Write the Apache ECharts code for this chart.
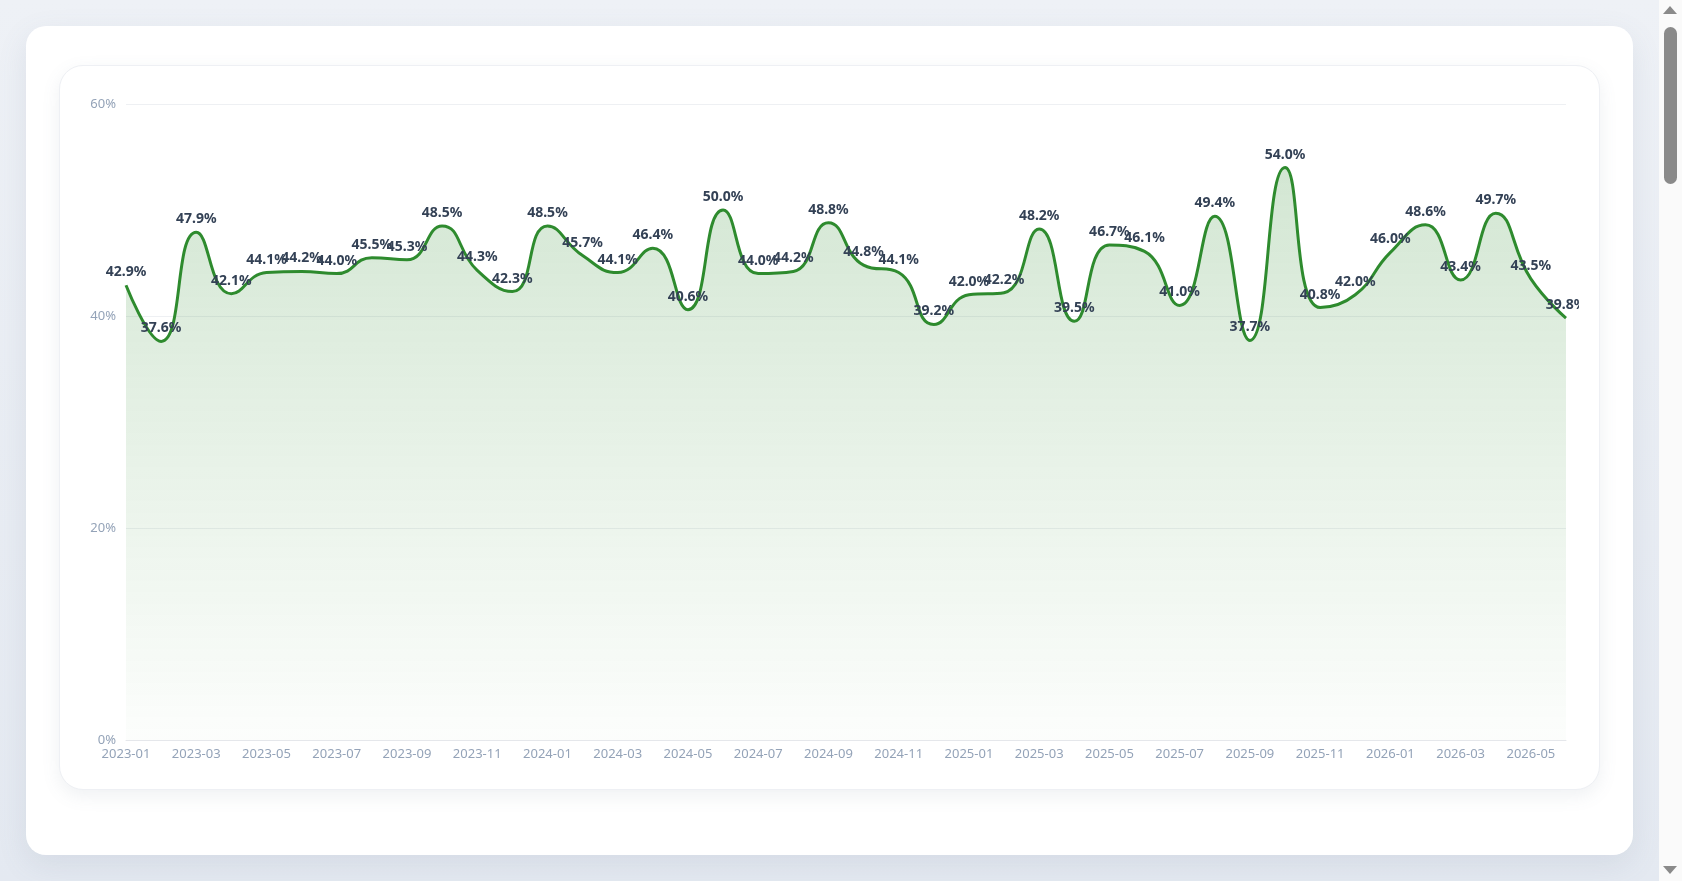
<!DOCTYPE html>
<html lang="en">

<head>
    <meta charset="UTF-8" />
    <meta name="viewport" content="width=device-width, initial-scale=1.0" />
    <title>Monthly Rate</title>
    <script src="https://cdn.jsdelivr.net/npm/echarts@6/dist/echarts.min.js"></script>
    <style>
        * {
            margin: 0;
            box-sizing: border-box;
        }

        body {
            background: linear-gradient(180deg, #eef1f6 0%, #e4e9f1 100%);
            font-family: "Noto Sans", sans-serif;
            height: 881px;
            overflow: hidden;
        }

        .outer {
            position: absolute;
            left: 26px;
            top: 26px;
            width: 1607px;
            height: 829px;
            background: #ffffff;
            border-radius: 20px;
            box-shadow: 0 10px 30px rgba(100, 116, 139, 0.12);
        }

        .inner {
            position: absolute;
            left: 33px;
            top: 39px;
            width: 1541px;
            height: 725px;
            padding: 20px;
            background: #ffffff;
            border: 1px solid #eef0f4;
            border-radius: 24px;
            box-shadow: 0 6px 18px rgba(100, 116, 139, 0.10);
        }

        #chart {
            width: 100%;
            height: 100%;
        }

        /* page scrollbar as it shows in the screenshot */
        .scrollbar {
            position: fixed;
            top: 0;
            right: 0;
            width: 23px;
            height: 881px;
            background: #fafafa;
        }

        .scrollbar .thumb {
            position: absolute;
            left: 5px;
            top: 27px;
            width: 13px;
            height: 157px;
            border-radius: 7px;
            background: #8a8a8a;
        }

        .scrollbar .up,
        .scrollbar .down {
            position: absolute;
            left: 4px;
            width: 0;
            height: 0;
            border-left: 7px solid transparent;
            border-right: 7px solid transparent;
        }

        .scrollbar .up {
            top: 6px;
            border-bottom: 8px solid #8a8a8a;
        }

        .scrollbar .down {
            top: 866px;
            border-top: 8px solid #8a8a8a;
        }
    </style>
</head>

<body>
    <div class="outer">
        <div class="inner">
            <div id="chart"></div>
        </div>
    </div>
    <div class="scrollbar">
        <div class="up"></div>
        <div class="thumb"></div>
        <div class="down"></div>
    </div>
    <script>
        const months = [
            "2023-01", "2023-02", "2023-03", "2023-04", "2023-05", "2023-06",
            "2023-07", "2023-08", "2023-09", "2023-10", "2023-11", "2023-12",
            "2024-01", "2024-02", "2024-03", "2024-04", "2024-05", "2024-06",
            "2024-07", "2024-08", "2024-09", "2024-10", "2024-11", "2024-12",
            "2025-01", "2025-02", "2025-03", "2025-04", "2025-05", "2025-06",
            "2025-07", "2025-08", "2025-09", "2025-10", "2025-11", "2025-12",
            "2026-01", "2026-02", "2026-03", "2026-04", "2026-05", "2026-06"
        ];

        const rates = [
            42.9, 37.6, 47.9, 42.1, 44.1, 44.2, 44.0, 45.5, 45.3, 48.5, 44.3, 42.3,
            48.5, 45.7, 44.1, 46.4, 40.6, 50.0, 44.0, 44.2, 48.8, 44.8, 44.1, 39.2,
            42.0, 42.2, 48.2, 39.5, 46.7, 46.1, 41.0, 49.4, 37.7, 54.0, 40.8, 42.0,
            46.0, 48.6, 43.4, 49.7, 43.5, 39.8
        ];

        const yTicks = [0, 20, 40, 60];

        const chart = echarts.init(document.getElementById("chart"));

        chart.setOption({
            animation: false,
            grid: { left: 46, right: 13, top: 18, bottom: 29 },
            xAxis: {
                type: "category",
                data: months,
                boundaryGap: false,
                axisLine: { lineStyle: { color: "#e5e7eb" } },
                axisTick: { show: false },
                axisLabel: {
                    color: "#94a3b8",
                    fontSize: 13,
                    fontFamily: "Noto Sans",
                    interval: 1,
                    margin: 8
                }
            },
            yAxis: {
                type: "value",
                min: yTicks[0],
                max: yTicks[yTicks.length - 1],
                interval: 20,
                axisLine: { show: false },
                axisTick: { show: false },
                axisLabel: {
                    color: "#94a3b8",
                    fontSize: 13,
                    fontFamily: "Noto Sans",
                    formatter: "{value}%",
                    margin: 10
                },
                splitLine: { lineStyle: { color: "#eef0f3" } }
            },
            series: [
                {
                    type: "line",
                    data: rates,
                    smooth: true,
                    showSymbol: true,
                    symbol: "circle",
                    symbolSize: 0,
                    lineStyle: { color: "#2e8b2e", width: 3 },
                    itemStyle: { color: "#2e8b2e" },
                    label: {
                        show: true,
                        position: "top",
                        distance: 6,
                        color: "#334155",
                        fontSize: 14,
                        fontWeight: "bold",
                        fontFamily: "Noto Sans",
                        formatter: (p) => p.value.toFixed(1) + "%"
                    },
                    areaStyle: {
                        color: new echarts.graphic.LinearGradient(0, 0, 0, 1, [
                            { offset: 0, color: "rgba(46,139,46,0.3)" },
                            { offset: 1, color: "rgba(46,139,46,0.02)" }
                        ])
                    }
                }
            ]
        });
    </script>
</body>

</html>
